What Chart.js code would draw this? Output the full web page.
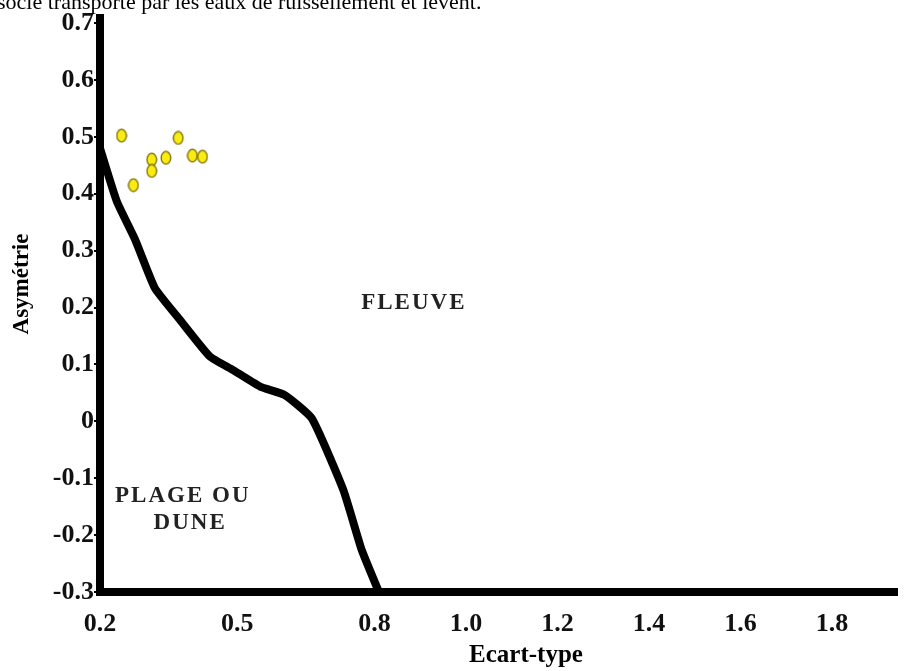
<!DOCTYPE html>
<html>
<head>
<meta charset="utf-8">
<script src="https://cdn.jsdelivr.net/npm/chart.js@4.4.1/dist/chart.umd.min.js"></script>
<style>
  html, body { margin: 0; padding: 0; background: #fff; }
  #wrap { width: 906px; height: 671px; position: relative; }
</style>
</head>
<body>
<div id="wrap"><canvas id="chart" width="906" height="671"></canvas></div>
<script>
// limit curve between "plage ou dune" and "fleuve"
const limitEcart = [0.200, 0.237, 0.277, 0.320, 0.375, 0.440, 0.491, 0.550, 0.604, 0.663, 0.732, 0.772, 0.808];
const limitAsym  = [0.480, 0.386, 0.319, 0.234, 0.178, 0.114, 0.090, 0.061, 0.046, 0.005, -0.121, -0.226, -0.297];

// samples
const sampleEcart = [0.247, 0.273, 0.313, 0.313, 0.344, 0.371, 0.402, 0.424];
const sampleAsym  = [0.502, 0.415, 0.460, 0.440, 0.463, 0.498, 0.467, 0.465];

const xTicks = [0.2, 0.5, 0.8, 1.0, 1.2, 1.4, 1.6, 1.8];
const yTicks = [0.7, 0.6, 0.5, 0.4, 0.3, 0.2, 0.1, 0, -0.1, -0.2, -0.3];

const zoneNames = ['FLEUVE', 'PLAGE OU', 'DUNE'];
const zoneSpots = [[0.886, 0.208], [0.381, -0.131], [0.397, -0.179]];

const caption = 'socle transporté par les eaux de ruissellement et levent.';

// yellow ellipse marker
const dot = document.createElement('canvas');
dot.width = 12; dot.height = 15;
const dctx = dot.getContext('2d');
dctx.beginPath();
dctx.ellipse(6, 7.5, 4.8, 6.3, 0, 0, Math.PI * 2);
dctx.fillStyle = '#f8ec12';
dctx.fill();
dctx.lineWidth = 1.3;
dctx.strokeStyle = '#7d6c00';
dctx.stroke();

const serif = '"Liberation Serif", "Times New Roman", serif';

const textPlugin = {
  id: 'texts',
  afterDraw(chart) {
    const ctx = chart.ctx;
    const xs = chart.scales.x, ys = chart.scales.y;
    ctx.save();
    ctx.fillStyle = '#000';
    // cut caption at the top
    ctx.font = '22px ' + serif;
    ctx.textAlign = 'left';
    ctx.textBaseline = 'alphabetic';
    ctx.fillText(caption, -3, 9);

    // zone names
    ctx.font = 'bold 23px ' + serif;
    ctx.fillStyle = '#222';
    ctx.textAlign = 'center';
    ctx.textBaseline = 'middle';
    ctx.letterSpacing = '2px';
    zoneNames.forEach((n, i) => {
      ctx.fillText(n, xs.getPixelForValue(zoneSpots[i][0]), ys.getPixelForValue(zoneSpots[i][1]));
    });
    ctx.letterSpacing = '0px';

    // axis titles
    ctx.fillStyle = '#000';
    ctx.font = 'bold 25px ' + serif;
    ctx.fillText('Ecart-type', 526, 656);
    ctx.translate(22, 284);
    ctx.rotate(-Math.PI / 2);
    ctx.font = 'bold 23px ' + serif;
    ctx.fillText('Asymétrie', 0, 0);
    ctx.restore();
  }
};

new Chart(document.getElementById('chart'), {
  type: 'scatter',
  data: {
    datasets: [
      {
        type: 'line',
        label: 'Limite',
        data: limitEcart.map((x, i) => ({ x: x, y: limitAsym[i] })),
        borderColor: '#000',
        borderWidth: 8,
        borderJoinStyle: 'round',
        borderCapStyle: 'round',
        pointRadius: 0,
        tension: 0.15,
        fill: false
      },
      {
        label: 'Echantillons',
        data: sampleEcart.map((x, i) => ({ x: x, y: sampleAsym[i] })),
        pointStyle: dot,
        pointRadius: 6
      }
    ]
  },
  options: {
    responsive: false,
    animation: false,
    devicePixelRatio: 1,
    layout: { padding: { top: 18, right: 9, left: 0, bottom: 0 } },
    plugins: {
      legend: { display: false },
      tooltip: { enabled: false }
    },
    scales: {
      x: {
        type: 'linear',
        min: 0.2,
        max: 1.942,
        afterBuildTicks: s => { s.ticks = xTicks.map(v => ({ value: v })); },
        afterFit: s => { s.height = 79; },
        grid: { display: false },
        border: { display: true, color: '#000', width: 8 },
        ticks: {
          color: '#111',
          padding: 9,
          maxRotation: 0,
          autoSkip: false,
          font: { family: serif, size: 26, weight: 'bold' },
          callback: v => v.toFixed(1)
        }
      },
      y: {
        type: 'linear',
        min: -0.3,
        max: 0.7088,
        afterBuildTicks: s => { s.ticks = yTicks.map(v => ({ value: v })); },
        afterFit: s => { s.width = 100; },
        grid: { drawOnChartArea: false, drawTicks: true, tickLength: 6, color: '#000', lineWidth: 2 },
        border: { display: true, color: '#000', width: 8 },
        ticks: {
          color: '#111',
          padding: 0,
          autoSkip: false,
          font: { family: serif, size: 26, weight: 'bold' },
          callback: v => (v === 0 ? '0' : v.toFixed(1))
        }
      }
    }
  },
  plugins: [textPlugin]
});
</script>
</body>
</html>
